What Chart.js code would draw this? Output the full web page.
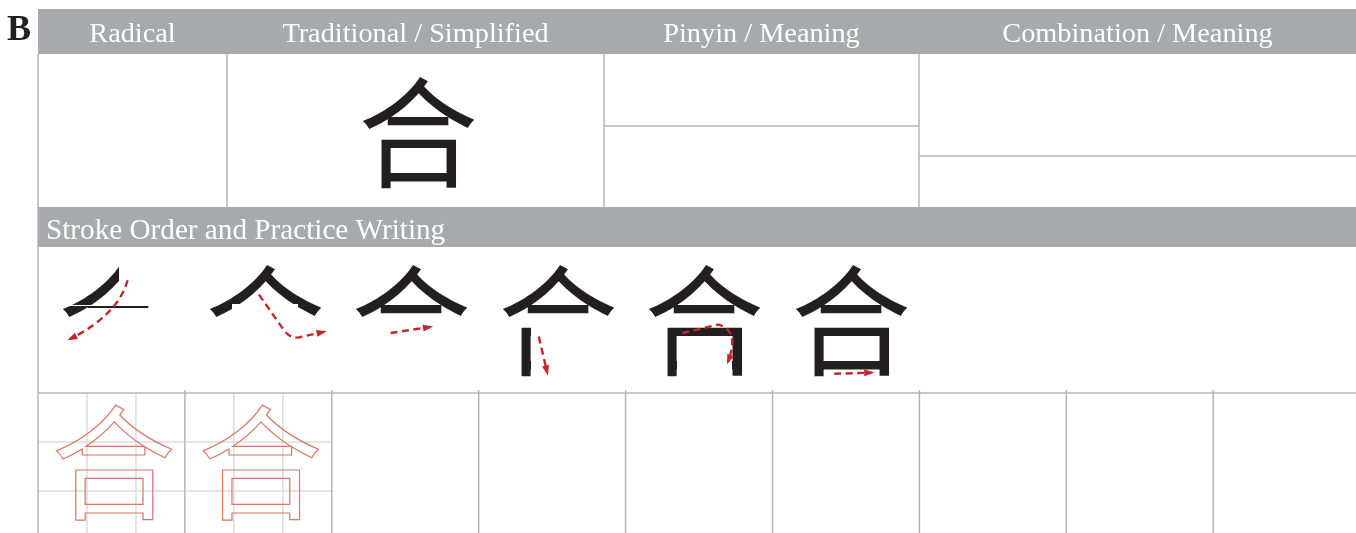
<!DOCTYPE html>
<html>
<head>
<meta charset="utf-8">
<script src="https://cdn.jsdelivr.net/npm/chart.js@4.4.0/dist/chart.umd.min.js"></script>
<style>
  html, body { margin: 0; padding: 0; background: #fff; overflow: hidden; }
  #wrap { width: 1356px; height: 533px; }
</style>
</head>
<body>
<div id="wrap"><canvas id="sheet" width="1356" height="533"></canvas></div>
<script>
// worksheet content
const panelLetter = 'B';
const headerLabels = ['Radical', 'Traditional / Simplified', 'Pinyin / Meaning', 'Combination / Meaning'];
const sectionTitle = 'Stroke Order and Practice Writing';
const character = '合';
const strokeSteps = [1, 2, 3, 4, 5, 6];
const practiceCells = [1, 2, 3, 4, 5, 6, 7, 8, 9];
const tracedCells = [1, 2];

// layout (in sheet units, converted by the chart scales)
const W = 1356, H = 533;
const headerTop = 9, headerBottom = 54;
const colEdges = [38, 227, 604, 919, 1356];
const topRowBottom = 207, sectionBottom = 247, practiceTop = 393;
const pinyinSplit = 126, comboSplit = 156;
const cellW = 146.9;
const stepX0 = 118, stepDX = 146.6, stepY = 321, stepSize = 120;
const bigX = 418, bigY = 133;
const traceY = 463, traceSize = 124;

const GRAY = '#a7a9ac';
const LINE = '#b3b4b7';
const INK = '#231f20';
const RED = '#c1272d';
const TRACE = '#d47a66';
const CJK = '"Noto Sans CJK SC", "Noto Sans CJK TC", sans-serif';
const SERIF = '"Liberation Serif", "DejaVu Serif", serif';

// stroke direction arrows, offsets from glyph centre as fractions of glyph size
const stepArrows = {
  1: [['M', 0.08, -0.34], ['Q', 0.0, -0.05, -0.40, 0.15]],
  2: [['M', -0.05, -0.22], ['L', 0.16, 0.08], ['Q', 0.22, 0.16, 0.31, 0.13], ['L', 0.49, 0.09]],
  3: [['M', -0.17, 0.10], ['L', 0.16, 0.05]],
  4: [['M', -0.16, 0.13], ['L', -0.09, 0.43]],
  5: [['M', -0.18, 0.10], ['L', 0.12, 0.03], ['Q', 0.30, 0.08, 0.20, 0.34]],
  6: [['M', -0.14, 0.44], ['L', 0.17, 0.43]]
};

// find where the strokes of the glyph sit, so each step can show only its strokes
function glyphGeometry(s) {
  const c = document.createElement('canvas');
  c.width = s; c.height = s;
  const g = c.getContext('2d');
  g.font = s + 'px ' + CJK;
  g.textAlign = 'center';
  g.textBaseline = 'middle';
  g.fillStyle = '#000';
  g.fillText(character, s / 2, s / 2);
  const d = g.getImageData(0, 0, s, s).data;
  const alpha = (x, y) => d[(y * s + x) * 4 + 3];
  const runs = test => {
    const r = []; let st = -1;
    for (let k = 0; k <= s; k++) {
      const v = k < s && test(k);
      if (v && st < 0) st = k;
      if (!v && st >= 0) { r.push([st, k]); st = -1; }
    }
    return r;
  };
  const rowRuns = (y, t) => runs(x => alpha(x, y) > t);
  const colRuns = (x, t) => runs(y => alpha(x, y) > t);

  const cr = colRuns(Math.round(s / 2), 0);
  const hRun = cr[cr.length - 3], btRun = cr[cr.length - 2], bbRun = cr[cr.length - 1];
  const hTop = hRun[0], hBot = hRun[1];
  const boxTop = btRun[0] - 3;
  const hr = rowRuns(Math.round((hTop + hBot) / 2), 60);
  const hSeg = hr.find(q => q[0] <= s / 2 && q[1] > s / 2) || [s * 0.25, s * 0.75];
  const hLeft = hSeg[0], hRight = hSeg[1];

  let ay = 0;
  for (let y = 0; y < hTop; y++) { if (rowRuns(y, 60).length >= 2) { ay = y; break; } }

  // cut line between the left-falling stroke and everything to its right
  const cut = [];
  let prev = s / 2;
  for (let y = ay; y < boxTop; y++) {
    const r = rowRuns(y, 60);
    const nearH = y >= hTop - 1;
    const inH = y >= hTop - 1 && y <= hBot;
    if (r.length) {
      const f = r[0];
      if (nearH && (f[0] >= hLeft - 2 || (f[0] + f[1]) / 2 > s / 2)) {
        prev = Math.min(f[0], hLeft) - 1.5;
      } else {
        prev = r.length >= 2 ? (f[1] + r[1][0]) / 2 : f[1] + 2;
        if (inH) prev = Math.min(prev, Math.max(hLeft - 1.5, f[1] + 0.5));
      }
    } else if (inH) {
      prev = Math.min(prev, hLeft - 1.5);
    }
    cut.push([prev, y], [prev, y + 1]);
  }
  const ax = cut.length ? cut[0][0] : s / 2;

  const vr = rowRuns(Math.round((btRun[1] + bbRun[0]) / 2), 60);
  const lvRight = vr[0][1], rvLeft = vr[vr.length - 1][0];
  return {
    boxTop, ax, cut,
    hBox: [hLeft - 2, hTop - 1, hRight + 2, hBot + 1],
    lvRight,
    bhBox: [lvRight, bbRun[0] - 1, rvLeft, bbRun[1] + 1]
  };
}

function stepClip(step, G, s) {
  const rect = (x1, y1, x2, y2) => [[x1, y1], [x2, y1], [x2, y2], [x1, y2]];
  const top = rect(0, 0, s, G.boxTop);
  if (step === 1) {
    const endY = G.cut.length ? G.cut[G.cut.length - 1][1] : G.boxTop;
    return { polys: [[[0, 0], [G.ax, 0], ...G.cut, [0, endY]]] };
  }
  if (step === 2) return { polys: [top, rect(...G.hBox)], evenodd: true };
  if (step === 3) return { polys: [top] };
  if (step === 4) return { polys: [top, rect(0, G.boxTop, G.lvRight, s)] };
  if (step === 5) return { polys: [rect(0, 0, s, s), rect(...G.bhBox)], evenodd: true };
  return null;
}

const sheetPlugin = {
  id: 'sheet',
  afterDatasetsDraw(chart) {
    const ctx = chart.ctx;
    const sx = v => chart.scales.x.getPixelForValue(v);
    const sy = v => chart.scales.y.getPixelForValue(v);
    const line = (x1, y1, x2, y2, color, w) => {
      ctx.beginPath();
      ctx.strokeStyle = color;
      ctx.lineWidth = w;
      ctx.moveTo(sx(x1), sy(y1));
      ctx.lineTo(sx(x2), sy(y2));
      ctx.stroke();
    };
    ctx.save();

    // panel letter
    ctx.fillStyle = INK;
    ctx.font = 'bold 36px ' + SERIF;
    ctx.textAlign = 'left';
    ctx.textBaseline = 'alphabetic';
    ctx.fillText(panelLetter, sx(7), sy(40));

    // header bar
    ctx.fillStyle = GRAY;
    ctx.fillRect(sx(colEdges[0]), sy(headerTop), sx(W) - sx(colEdges[0]), sy(headerBottom) - sy(headerTop));
    ctx.fillStyle = '#fff';
    ctx.font = '28.3px ' + SERIF;
    ctx.textAlign = 'center';
    headerLabels.forEach((lab, i) => {
      ctx.fillText(lab, sx((colEdges[i] + colEdges[i + 1]) / 2), sy(42));
    });

    // top row grid
    [1, 2, 3].forEach(i => line(colEdges[i], headerBottom, colEdges[i], topRowBottom, LINE, 1.5));
    line(colEdges[2], pinyinSplit, colEdges[3], pinyinSplit, LINE, 1.5);
    line(colEdges[3], comboSplit, W, comboSplit, LINE, 1.5);

    // section bar
    ctx.fillStyle = GRAY;
    ctx.fillRect(sx(colEdges[0]), sy(topRowBottom), sx(W) - sx(colEdges[0]), sy(sectionBottom) - sy(topRowBottom));
    ctx.fillStyle = '#fff';
    ctx.textAlign = 'left';
    ctx.font = '29.2px ' + SERIF;
    ctx.fillText(sectionTitle, sx(46), sy(239));

    // practice cells
    practiceCells.forEach((c, i) => {
      const x0 = colEdges[0] + i * cellW;
      if (tracedCells.includes(c)) {
        for (let k = 1; k <= 2; k++) {
          line(x0 + k * cellW / 3, practiceTop, x0 + k * cellW / 3, H, '#dcdcdc', 1.5);
          line(x0, practiceTop + k * cellW / 3, x0 + cellW, practiceTop + k * cellW / 3, '#dcdcdc', 1.5);
        }
      }
      if (i > 0) line(x0, practiceTop - 3, x0, H, LINE, 1.5);
    });
    line(colEdges[0], practiceTop, W, practiceTop, LINE, 1.5);

    // outer left border
    line(colEdges[0], headerBottom, colEdges[0], H, LINE, 1.5);

    // large character
    ctx.fillStyle = INK;
    ctx.textAlign = 'center';
    ctx.textBaseline = 'middle';
    ctx.font = stepSize + 'px ' + CJK;
    ctx.fillText(character, sx(bigX), sy(bigY));

    // traced characters
    ctx.strokeStyle = TRACE;
    ctx.lineWidth = 1.2;
    ctx.font = traceSize + 'px ' + CJK;
    tracedCells.forEach(c => {
      const cx = colEdges[0] + (c - 0.5) * cellW + 2;
      ctx.strokeText(character, sx(cx), sy(traceY));
    });

    // stroke order steps
    const s = stepSize;
    const G = glyphGeometry(s);
    const meta = chart.getDatasetMeta(0);
    meta.data.forEach((pt, i) => {
      const step = strokeSteps[i];
      const cx = Math.round(pt.x), cy = Math.round(pt.y);
      const x0 = cx - s / 2, y0 = cy - s / 2;
      ctx.save();
      const clip = stepClip(step, G, s);
      if (clip) {
        ctx.beginPath();
        clip.polys.forEach(p => {
          p.forEach(([u, v], j) => j ? ctx.lineTo(x0 + u, y0 + v) : ctx.moveTo(x0 + u, y0 + v));
          ctx.closePath();
        });
        ctx.clip(clip.evenodd ? 'evenodd' : 'nonzero');
      }
      ctx.fillStyle = INK;
      ctx.font = s + 'px ' + CJK;
      ctx.fillText(character, cx, cy);
      ctx.restore();

      // arrow showing the direction of the new stroke
      const cmds = stepArrows[step];
      ctx.save();
      ctx.strokeStyle = RED;
      ctx.fillStyle = RED;
      ctx.lineWidth = 2.4;
      ctx.setLineDash([7, 4.5]);
      ctx.beginPath();
      let px = 0, py = 0, qx = 0, qy = 0;
      cmds.forEach(cm => {
        const P = (a, b) => [cx + a * s, cy + b * s];
        if (cm[0] === 'M') { [px, py] = P(cm[1], cm[2]); ctx.moveTo(px, py); qx = px; qy = py; }
        else if (cm[0] === 'L') { qx = px; qy = py; [px, py] = P(cm[1], cm[2]); ctx.lineTo(px, py); }
        else { const [c1, c2] = P(cm[1], cm[2]); qx = c1; qy = c2; [px, py] = P(cm[3], cm[4]); ctx.quadraticCurveTo(c1, c2, px, py); }
      });
      ctx.stroke();
      ctx.setLineDash([]);
      const ang = Math.atan2(py - qy, px - qx);
      ctx.beginPath();
      ctx.moveTo(px + Math.cos(ang) * 3, py + Math.sin(ang) * 3);
      ctx.lineTo(px - Math.cos(ang - 0.45) * 8, py - Math.sin(ang - 0.45) * 8);
      ctx.lineTo(px - Math.cos(ang + 0.45) * 8, py - Math.sin(ang + 0.45) * 8);
      ctx.closePath();
      ctx.fill();
      ctx.restore();
    });

    ctx.restore();
  }
};

new Chart(document.getElementById('sheet'), {
  type: 'scatter',
  data: {
    datasets: [{
      label: 'Stroke order',
      data: strokeSteps.map((s, i) => ({ x: stepX0 + i * stepDX, y: stepY })),
      pointRadius: 0,
      pointHoverRadius: 0
    }]
  },
  options: {
    responsive: false,
    animation: false,
    devicePixelRatio: 1,
    layout: { padding: 0 },
    events: [],
    scales: {
      x: { type: 'linear', display: false, min: 0, max: W },
      y: { type: 'linear', display: false, min: 0, max: H, reverse: true }
    },
    plugins: {
      legend: { display: false },
      tooltip: { enabled: false }
    }
  },
  plugins: [sheetPlugin]
});
</script>
</body>
</html>
